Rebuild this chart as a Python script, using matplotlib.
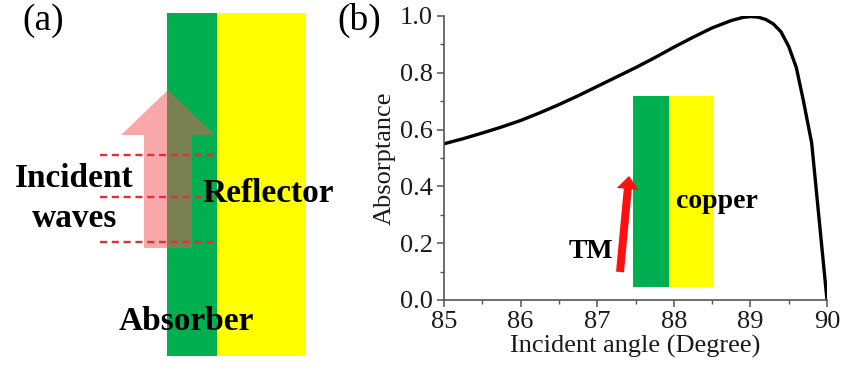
import numpy as np
import matplotlib
matplotlib.use("Agg")
import matplotlib.pyplot as plt
import matplotlib.patches as mpatches
from matplotlib.ticker import MultipleLocator

# -------------------------------------------------------------------------
# Data
# -------------------------------------------------------------------------
angle = [85.0, 85.25, 85.5, 85.75, 86.0, 86.25, 86.5, 86.75, 87.0, 87.25,
         87.5, 87.75, 88.0, 88.25, 88.5, 88.75, 88.9, 89.0, 89.1, 89.2,
         89.3, 89.4, 89.5, 89.6, 89.69, 89.8, 90.0]
absorptance = [0.550, 0.568, 0.588, 0.609, 0.632, 0.659, 0.688, 0.719, 0.752,
               0.785, 0.818, 0.853, 0.890, 0.925, 0.958, 0.984, 0.995, 0.998,
               0.996, 0.988, 0.972, 0.944, 0.893, 0.818, 0.704, 0.553, 0.0]
xticks = [85, 86, 87, 88, 89, 90]
yticks = [0.0, 0.2, 0.4, 0.6, 0.8, 1.0]

W, H = 844, 373
GREEN = "#00b050"
YELLOW = "#ffff00"
serif = "Liberation Serif"

fig = plt.figure(figsize=(W / 100, H / 100), dpi=100)

# -------------------------------------------------------------------------
# Panel (b): absorptance curve
# -------------------------------------------------------------------------
ax = fig.add_axes([444 / W, 1 - 300 / H, (827 - 444) / W, (300 - 16) / H])
ax.plot(angle, absorptance, color="black", lw=2.4, solid_joinstyle="round")
ax.set_xlim(85, 90)
ax.set_ylim(0, 1.0)
ax.set_xticks(xticks)
ax.set_yticks(yticks)
ax.set_xticklabels([str(t) for t in xticks])
ax.set_yticklabels([f"{t:.1f}" for t in yticks])
ax.xaxis.set_minor_locator(MultipleLocator(0.5))
ax.yaxis.set_minor_locator(MultipleLocator(0.1))
for s in ("top", "right"):
    ax.spines[s].set_visible(False)
for s in ("left", "bottom"):
    ax.spines[s].set_color("#555555")
    ax.spines[s].set_linewidth(1.2)
ax.tick_params(which="major", direction="out", length=5, width=1.1,
               color="#555555", pad=3, labelsize=19, labelcolor="#1a1a1a")
ax.tick_params(which="minor", direction="out", length=3, width=1.0,
               color="#555555")
for lab in ax.get_xticklabels() + ax.get_yticklabels():
    lab.set_fontfamily(serif)
ax.set_xlabel("Incident angle (Degree)", fontsize=19, family=serif,
              color="#1a1a1a", labelpad=1)
ax.set_ylabel("Absorptance", fontsize=19, family=serif, color="#1a1a1a",
              labelpad=3)

# -------------------------------------------------------------------------
# Overlay in pixel coordinates for the schematics
# -------------------------------------------------------------------------
ov = fig.add_axes([0, 0, 1, 1], zorder=5)
ov.set_xlim(0, W)
ov.set_ylim(H, 0)
ov.axis("off")
ov.patch.set_alpha(0)

# panel (a) layers
ov.add_patch(mpatches.Rectangle((167, 13), 50, 343, color=GREEN, lw=0))
ov.add_patch(mpatches.Rectangle((217, 13), 89, 343, color=YELLOW, lw=0))
pink = [(144, 248), (144, 135), (121, 135), (168, 90), (215, 135),
        (192, 135), (192, 248)]
ov.add_patch(mpatches.Polygon(pink, closed=True, color=(0.95, 0.32, 0.32),
                              alpha=0.5, lw=0))
for yy in (155, 197, 242):
    ov.plot([100, 217], [yy, yy], color="#e0303a", lw=1.7, ls=(0, (3, 2)))

bold = dict(family=serif, fontweight="bold", color="black")
ov.text(74, 187, "Incident", fontsize=24, ha="center", va="baseline", **bold)
ov.text(75, 227, "waves", fontsize=24, ha="center", va="baseline", **bold)
ov.text(268, 202, "Reflector", fontsize=24, ha="center", va="baseline", **bold)
ov.text(186, 330, "Absorber", fontsize=24, ha="center", va="baseline", **bold)
ov.text(22, 30, "(a)", fontsize=27, family=serif, ha="left", va="baseline")
ov.text(337, 30, "(b)", fontsize=27, family=serif, ha="left", va="baseline")

# panel (b) inset
ov.add_patch(mpatches.Rectangle((633, 96), 36, 191, color=GREEN, lw=0))
ov.add_patch(mpatches.Rectangle((669, 96), 45, 191, color=YELLOW, lw=0))
ov.add_patch(mpatches.FancyArrow(620, 272, 9, -96, width=8, head_width=22,
                                 head_length=13, length_includes_head=True,
                                 color="#ff1010", lw=0))
ov.text(717, 208, "copper", fontsize=20, ha="center", va="baseline", **bold)
ov.text(591, 258, "TM", fontsize=20, ha="center", va="baseline", **bold)

fig.savefig("out.png", dpi=100)
